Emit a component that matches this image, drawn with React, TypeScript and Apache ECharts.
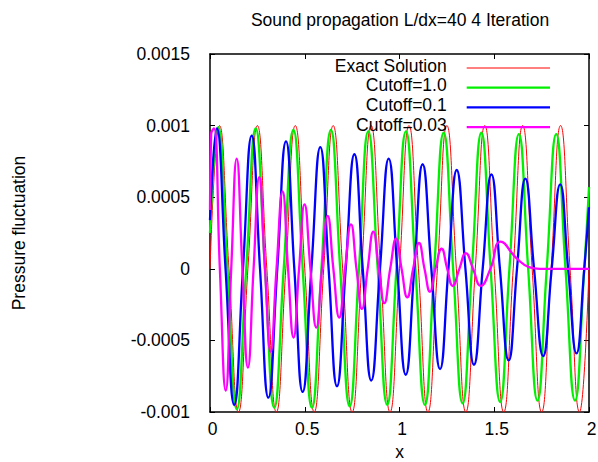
import React, { useEffect, useRef } from "react";
import * as echarts from "echarts";

const chartTitle = "Sound propagation L/dx=40 4 Iteration";
const xAxisName = "x";
const yAxisName = "Pressure fluctuation";
const xTicks = { min: 0, max: 2, interval: 0.5 };
const yTicks = { min: -0.001, max: 0.0015, interval: 0.0005 };

const seriesNames = ["Exact Solution", "Cutoff=1.0", "Cutoff=0.1", "Cutoff=0.03"];
const seriesColors = ["#ff0000", "#00f000", "#0000ff", "#ff00ff"];
const seriesWidths = [1, 2.3, 2.3, 2.3];

// [x, pressure] (extrema and zero crossings)
const exactSolution: number[][] = [
  [0, 0], [0.05, 1e-3], [0.1, 0], [0.15, -1e-3], [0.2, 0], [0.25, 1e-3], [0.3, 0], [0.35, -1e-3],
  [0.4, 0], [0.45, 1e-3], [0.5, 0], [0.55, -1e-3], [0.6, 0], [0.65, 1e-3], [0.7, 0], [0.75, -1e-3],
  [0.8, 0], [0.85, 1e-3], [0.9, 0], [0.95, -1e-3], [1.0, 0], [1.05, 1e-3], [1.1, 0], [1.15, -1e-3],
  [1.2, 0], [1.25, 1e-3], [1.3, 0], [1.35, -1e-3], [1.4, 0], [1.45, 1e-3], [1.5, 0], [1.55, -1e-3],
  [1.6, 0], [1.65, 1e-3], [1.7, 0], [1.75, -1e-3], [1.8, 0], [1.85, 1e-3], [1.9, 0], [1.95, -1e-3],
  [2.0, 0],
];

const cutoff10: number[][] = [
  [0, 2.5e-4], [0.043, 9.9e-4], [0.092, 0], [0.141, -9.8e-4], [0.191, 0], [0.241, 9.8e-4],
  [0.29, 0], [0.339, -9.7e-4], [0.389, 0], [0.44, 9.7e-4], [0.489, 0], [0.538, -9.7e-4],
  [0.588, 0], [0.638, 9.7e-4], [0.687, 0], [0.737, -9.6e-4], [0.786, 0], [0.835, 9.6e-4],
  [0.885, 0], [0.935, -9.5e-4], [0.984, 0], [1.034, 9.6e-4], [1.084, 0], [1.134, -9.5e-4],
  [1.183, 0], [1.233, 9.5e-4], [1.283, 0], [1.333, -9.4e-4], [1.382, 0], [1.432, 9.5e-4],
  [1.481, 0], [1.531, -9.3e-4], [1.58, 0], [1.63, 9.4e-4], [1.679, 0], [1.728, -9.2e-4],
  [1.777, 0], [1.827, 9.4e-4], [1.876, 0], [1.926, -9.2e-4], [1.975, 0], [2.0, 5.7e-4],
];

const cutoff01: number[][] = [
  [0, 3.4e-4], [0.036, 9.8e-4], [0.082, 0], [0.128, -9.5e-4], [0.174, 0], [0.22, 9.3e-4],
  [0.264, 0], [0.308, -9.0e-4], [0.355, 0], [0.401, 8.9e-4], [0.445, 0], [0.489, -8.6e-4],
  [0.535, 0], [0.582, 8.5e-4], [0.626, 0], [0.67, -8.2e-4], [0.716, 0], [0.762, 8.0e-4],
  [0.806, 0], [0.851, -7.8e-4], [0.897, 0], [0.943, 7.7e-4], [0.988, 0], [1.033, -7.4e-4],
  [1.078, 0], [1.122, 7.3e-4], [1.168, 0], [1.214, -7.0e-4], [1.258, 0], [1.302, 6.9e-4],
  [1.348, 0], [1.393, -6.7e-4], [1.439, 0], [1.485, 6.6e-4], [1.53, 0], [1.576, -6.4e-4],
  [1.62, 0], [1.664, 6.3e-4], [1.71, 0], [1.758, -6.1e-4], [1.803, 0], [1.848, 5.9e-4],
  [1.89, 0], [1.934, -5.9e-4], [1.975, 0], [2.0, 4.3e-4],
];

const cutoff003: number[][] = [
  [0, 4.1e-4], [0.006, 9.4e-4], [0.021, 9.8e-4], [0.052, 0], [0.083, -8.5e-4], [0.112, 0],
  [0.141, 7.7e-4], [0.171, 0], [0.2, -6.9e-4], [0.23, 0], [0.26, 6.4e-4], [0.29, 0],
  [0.32, -5.8e-4], [0.351, 0], [0.383, 5.4e-4], [0.412, 0], [0.441, -4.8e-4], [0.47, 0],
  [0.499, 4.5e-4], [0.53, 0], [0.561, -4.1e-4], [0.591, 0], [0.621, 3.7e-4], [0.651, 0],
  [0.682, -3.4e-4], [0.713, 0], [0.744, 3.1e-4], [0.773, 0], [0.802, -2.8e-4], [0.832, 0],
  [0.862, 2.6e-4], [0.891, 0], [0.92, -2.4e-4], [0.951, 0], [0.982, 2.1e-4], [1.011, 0],
  [1.041, -2.0e-4], [1.072, 0], [1.103, 1.8e-4], [1.132, 0], [1.161, -1.6e-4], [1.19, 0],
  [1.222, 1.4e-4], [1.252, 0], [1.281, -1.2e-4], [1.316, 0], [1.35, 1.1e-4], [1.388, 0],
  [1.429, -1.2e-4], [1.48, 0], [1.534, 1.9e-4], [1.617, 7.5e-5], [1.687, 1e-5], [1.74, 0],
  [1.8, 0], [2.0, 0],
];

const seriesData = [exactSolution, cutoff10, cutoff01, cutoff003];

const FONT = "'Liberation Sans', Arial, sans-serif";
const FS = 17.5;

export default function App() {
  const ref = useRef<HTMLDivElement>(null);
  useEffect(() => {
    if (!ref.current) return;
    const chart = echarts.init(ref.current, null, { renderer: "svg" });
    const gridL = 210, gridR = 9, gridT = 54, gridB = 50;
    const fmtNum = (v: number) => String(parseFloat(v.toPrecision(6)));

    const axisLine = { show: true, onZero: false, lineStyle: { color: "#000", width: 1.5 } };
    const axisTick = { show: true, inside: true, length: 5, lineStyle: { color: "#000", width: 1 } };

    const legendX0 = 466.7, legendX1 = 550, legendTextX = 446.7;
    const legendY0 = 68, legendDY = 19.7;
    const legendGraphics: any[] = [];
    seriesNames.forEach((name, i) => {
      const y = legendY0 + i * legendDY;
      legendGraphics.push({
        type: "text",
        x: legendTextX,
        y: y - 2.5,
        style: { text: name, fill: "#000", font: `${FS}px ${FONT}`, align: "right", verticalAlign: "middle" },
        z: 100,
      });
      legendGraphics.push({
        type: "line",
        shape: { x1: legendX0, y1: y, x2: legendX1, y2: y },
        style: { stroke: seriesColors[i], lineWidth: seriesWidths[i] },
        z: 100,
      });
    });

    chart.setOption({
      animation: false,
      backgroundColor: "#fff",
      textStyle: { fontFamily: FONT },
      grid: {
        left: gridL, right: gridR, top: gridT, bottom: gridB,
        containLabel: false, outerBoundsMode: "none",
      },
      xAxis: [
        {
          type: "value", position: "bottom", ...xTicks,
          axisLine, axisTick, splitLine: { show: false },
          axisLabel: { color: "#000", fontSize: FS, fontFamily: FONT, margin: 8, padding: [0, 0, 0, 5], formatter: fmtNum },
          name: xAxisName, nameLocation: "middle", nameGap: 30,
          nameTextStyle: { color: "#000", fontSize: FS, fontFamily: FONT },
        },
        {
          type: "value", position: "top", ...xTicks,
          axisLine, axisTick, splitLine: { show: false }, axisLabel: { show: false },
        },
      ],
      yAxis: [
        {
          type: "value", position: "left", ...yTicks,
          axisLine, axisTick, splitLine: { show: false },
          axisLabel: { color: "#000", fontSize: FS, fontFamily: FONT, margin: 20, padding: [0, 0, 5, 0], formatter: fmtNum },
          name: yAxisName, nameLocation: "middle", nameGap: 182,
          nameTextStyle: { color: "#000", fontSize: FS, fontFamily: FONT },
        },
        {
          type: "value", position: "right", ...yTicks,
          axisLine, axisTick, splitLine: { show: false }, axisLabel: { show: false },
        },
      ],
      graphic: [
        {
          type: "text", x: 400, y: 20,
          style: { text: chartTitle, fill: "#000", font: `${FS}px ${FONT}`, align: "center", verticalAlign: "middle" },
        },
        ...legendGraphics,
      ],
      series: seriesData.map((d, i) => ({
        type: "line",
        name: seriesNames[i],
        data: d,
        xAxisIndex: 0,
        yAxisIndex: 0,
        smooth: 0.5,
        showSymbol: false,
        symbol: "none",
        clip: true,
        lineStyle: { color: seriesColors[i], width: seriesWidths[i] },
        itemStyle: { color: seriesColors[i] },
        z: 2 + i,
      })),
    });
    return () => chart.dispose();
  }, []);
  return (
    <div
      ref={ref}
      style={{ position: "absolute", left: 0, top: 0, width: 598, height: 462, background: "#fff" }}
    />
  );
}
